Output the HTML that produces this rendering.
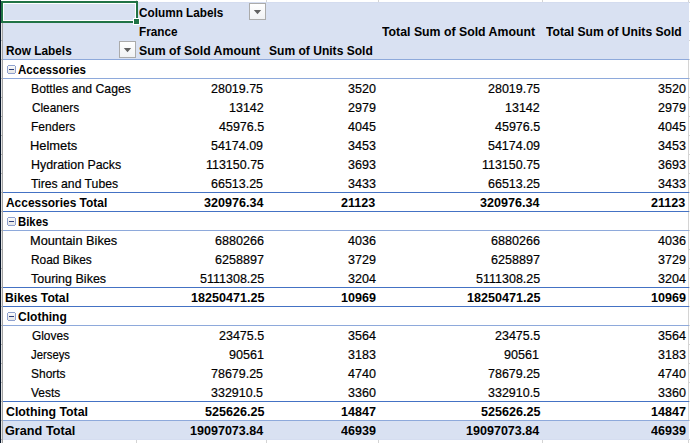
<!DOCTYPE html>
<html><head><meta charset="utf-8"><style>
html,body{margin:0;padding:0;background:#fff;}
body{width:690px;height:443px;position:relative;overflow:hidden;font-family:"Liberation Sans",sans-serif;}
.r{position:absolute;}
.t{position:absolute;white-space:nowrap;font-size:13.5px;line-height:19px;height:19px;color:#000;transform-origin:0 0;-webkit-text-stroke:0.2px #000;}
.b{font-weight:bold;-webkit-text-stroke:0;}
.cb{position:absolute;width:9px;height:9px;}
.cb b{position:absolute;background:#8FA1CE;}
.cb i{position:absolute;left:1px;top:1px;width:7px;height:7px;background:linear-gradient(#FAFAFA,#E4E4E4);}
.cb i:after{content:"";position:absolute;left:1px;top:3px;width:5px;height:1px;background:#2B3D7A;}
.dd{position:absolute;width:15px;height:15px;border:1px solid #ABABAB;background:linear-gradient(#FFFFFF,#F1F2F4);}
.dd svg{position:absolute;left:0;top:0;}
.sel{position:absolute;left:1px;top:1px;width:133px;height:18px;border:2px solid #217346;box-shadow:inset 0 0 0 1px #fff;}
.hdl{position:absolute;left:133px;top:18px;width:5px;height:5px;background:#217346;border:1px solid #fff;}
</style></head><body>
<div class="r" style="left:0px;top:0px;width:1px;height:443px;background:#07152A"></div>
<div class="r" style="left:1px;top:23px;width:1px;height:420px;background:#E4E4E4"></div>
<div class="r" style="left:1px;top:40px;width:1px;height:1px;background:#B4B4B4"></div>
<div class="r" style="left:1px;top:59px;width:1px;height:1px;background:#B4B4B4"></div>
<div class="r" style="left:1px;top:78px;width:1px;height:1px;background:#B4B4B4"></div>
<div class="r" style="left:1px;top:97px;width:1px;height:1px;background:#B4B4B4"></div>
<div class="r" style="left:1px;top:116px;width:1px;height:1px;background:#B4B4B4"></div>
<div class="r" style="left:1px;top:135px;width:1px;height:1px;background:#B4B4B4"></div>
<div class="r" style="left:1px;top:154px;width:1px;height:1px;background:#B4B4B4"></div>
<div class="r" style="left:1px;top:173px;width:1px;height:1px;background:#B4B4B4"></div>
<div class="r" style="left:1px;top:192px;width:1px;height:1px;background:#B4B4B4"></div>
<div class="r" style="left:1px;top:211px;width:1px;height:1px;background:#B4B4B4"></div>
<div class="r" style="left:1px;top:230px;width:1px;height:1px;background:#B4B4B4"></div>
<div class="r" style="left:1px;top:249px;width:1px;height:1px;background:#B4B4B4"></div>
<div class="r" style="left:1px;top:268px;width:1px;height:1px;background:#B4B4B4"></div>
<div class="r" style="left:1px;top:287px;width:1px;height:1px;background:#B4B4B4"></div>
<div class="r" style="left:1px;top:306px;width:1px;height:1px;background:#B4B4B4"></div>
<div class="r" style="left:1px;top:325px;width:1px;height:1px;background:#B4B4B4"></div>
<div class="r" style="left:1px;top:344px;width:1px;height:1px;background:#B4B4B4"></div>
<div class="r" style="left:1px;top:363px;width:1px;height:1px;background:#B4B4B4"></div>
<div class="r" style="left:1px;top:382px;width:1px;height:1px;background:#B4B4B4"></div>
<div class="r" style="left:1px;top:401px;width:1px;height:1px;background:#B4B4B4"></div>
<div class="r" style="left:1px;top:420px;width:1px;height:1px;background:#B4B4B4"></div>
<div class="r" style="left:1px;top:439px;width:1px;height:1px;background:#B4B4B4"></div>
<div class="r" style="left:2px;top:23px;width:1px;height:420px;background:#A2A2A2"></div>
<div class="r" style="left:266px;top:0px;width:1px;height:2px;background:#D4D4D4"></div>
<div class="r" style="left:378px;top:0px;width:1px;height:2px;background:#D4D4D4"></div>
<div class="r" style="left:542px;top:0px;width:1px;height:2px;background:#D4D4D4"></div>
<div class="r" style="left:688px;top:0px;width:1px;height:2px;background:#D4D4D4"></div>
<div class="r" style="left:3px;top:2px;width:686px;height:1px;background:#D4DCEF"></div>
<div class="r" style="left:3px;top:3px;width:686px;height:56px;background:#D9E1F2"></div>
<div class="r" style="left:688px;top:60px;width:1px;height:383px;background:#D4D4D4"></div>
<div class="r" style="left:136px;top:440px;width:1px;height:3px;background:#D4D4D4"></div>
<div class="r" style="left:266px;top:440px;width:1px;height:3px;background:#D4D4D4"></div>
<div class="r" style="left:378px;top:440px;width:1px;height:3px;background:#D4D4D4"></div>
<div class="r" style="left:542px;top:440px;width:1px;height:3px;background:#D4D4D4"></div>
<div class="r" style="left:3px;top:421px;width:686px;height:18px;background:#D9E1F2"></div>
<div class="r" style="left:3px;top:439px;width:686px;height:1px;background:#D5DDF0"></div>
<div class="r" style="left:3px;top:59px;width:686px;height:1px;background:#8EA9DB"></div>
<div class="r" style="left:3px;top:78px;width:686px;height:1px;background:#8EA9DB"></div>
<div class="r" style="left:3px;top:230px;width:686px;height:1px;background:#8EA9DB"></div>
<div class="r" style="left:3px;top:325px;width:686px;height:1px;background:#8EA9DB"></div>
<div class="r" style="left:3px;top:420px;width:686px;height:1px;background:#8EA9DB"></div>
<div class="r" style="left:3px;top:192px;width:686px;height:1px;background:#4472C4"></div>
<div class="r" style="left:3px;top:211px;width:686px;height:1px;background:#4472C4"></div>
<div class="r" style="left:3px;top:287px;width:686px;height:1px;background:#4472C4"></div>
<div class="r" style="left:3px;top:306px;width:686px;height:1px;background:#4472C4"></div>
<div class="r" style="left:3px;top:401px;width:686px;height:1px;background:#4472C4"></div>
<div class="r" style="left:689px;top:2px;width:1px;height:1px;background:#D4D4D4"></div>
<div class="r" style="left:689px;top:21px;width:1px;height:1px;background:#D4D4D4"></div>
<div class="r" style="left:689px;top:40px;width:1px;height:1px;background:#D4D4D4"></div>
<div class="r" style="left:689px;top:59px;width:1px;height:1px;background:#D4D4D4"></div>
<div class="r" style="left:689px;top:78px;width:1px;height:1px;background:#D4D4D4"></div>
<div class="r" style="left:689px;top:97px;width:1px;height:1px;background:#D4D4D4"></div>
<div class="r" style="left:689px;top:116px;width:1px;height:1px;background:#D4D4D4"></div>
<div class="r" style="left:689px;top:135px;width:1px;height:1px;background:#D4D4D4"></div>
<div class="r" style="left:689px;top:154px;width:1px;height:1px;background:#D4D4D4"></div>
<div class="r" style="left:689px;top:173px;width:1px;height:1px;background:#D4D4D4"></div>
<div class="r" style="left:689px;top:192px;width:1px;height:1px;background:#D4D4D4"></div>
<div class="r" style="left:689px;top:211px;width:1px;height:1px;background:#D4D4D4"></div>
<div class="r" style="left:689px;top:230px;width:1px;height:1px;background:#D4D4D4"></div>
<div class="r" style="left:689px;top:249px;width:1px;height:1px;background:#D4D4D4"></div>
<div class="r" style="left:689px;top:268px;width:1px;height:1px;background:#D4D4D4"></div>
<div class="r" style="left:689px;top:287px;width:1px;height:1px;background:#D4D4D4"></div>
<div class="r" style="left:689px;top:306px;width:1px;height:1px;background:#D4D4D4"></div>
<div class="r" style="left:689px;top:325px;width:1px;height:1px;background:#D4D4D4"></div>
<div class="r" style="left:689px;top:344px;width:1px;height:1px;background:#D4D4D4"></div>
<div class="r" style="left:689px;top:363px;width:1px;height:1px;background:#D4D4D4"></div>
<div class="r" style="left:689px;top:382px;width:1px;height:1px;background:#D4D4D4"></div>
<div class="r" style="left:689px;top:401px;width:1px;height:1px;background:#D4D4D4"></div>
<div class="r" style="left:689px;top:420px;width:1px;height:1px;background:#D4D4D4"></div>
<div class="r" style="left:689px;top:439px;width:1px;height:1px;background:#D4D4D4"></div>
<div class="r" style="left:136px;top:0px;width:1px;height:1px;background:#D4D4D4"></div>
<div class="cb" style="left:7px;top:65px"><b style="left:1px;top:0;width:7px;height:1px"></b><b style="left:1px;top:8px;width:7px;height:1px"></b><b style="left:0;top:1px;width:1px;height:7px"></b><b style="left:8px;top:1px;width:1px;height:7px"></b><i></i></div>
<div class="cb" style="left:7px;top:217px"><b style="left:1px;top:0;width:7px;height:1px"></b><b style="left:1px;top:8px;width:7px;height:1px"></b><b style="left:0;top:1px;width:1px;height:7px"></b><b style="left:8px;top:1px;width:1px;height:7px"></b><i></i></div>
<div class="cb" style="left:7px;top:312px"><b style="left:1px;top:0;width:7px;height:1px"></b><b style="left:1px;top:8px;width:7px;height:1px"></b><b style="left:0;top:1px;width:1px;height:7px"></b><b style="left:8px;top:1px;width:1px;height:7px"></b><i></i></div>
<div class="dd" style="left:249px;top:3px"><svg width="15" height="15" viewBox="0 0 15 15"><path d="M3.8 6 L11.2 6 L7.5 10.2 Z" fill="#616161"/></svg></div>
<div class="dd" style="left:119px;top:41px"><svg width="15" height="15" viewBox="0 0 15 15"><path d="M3.8 6 L11.2 6 L7.5 10.2 Z" fill="#616161"/></svg></div>
<div class="sel"></div><div class="hdl"></div>
<div class="t b" style="left:138.764px;top:3px;transform:scaleX(0.87231)">Column Labels</div>
<div class="t b" style="left:139.115px;top:22px;transform:scaleX(0.87199)">France</div>
<div class="t b" style="left:381.557px;top:22px;transform:scaleX(0.91086)">Total Sum of Sold Amount</div>
<div class="t b" style="left:545.560px;top:22px;transform:scaleX(0.89768)">Total Sum of Units Sold</div>
<div class="t b" style="left:5.512px;top:41px;transform:scaleX(0.87606)">Row Labels</div>
<div class="t b" style="left:138.806px;top:41px;transform:scaleX(0.90999)">Sum of Sold Amount</div>
<div class="t b" style="left:268.827px;top:41px;transform:scaleX(0.89300)">Sum of Units Sold</div>
<div class="t b" style="left:17.809px;top:60px;transform:scaleX(0.85507)">Accessories</div>
<div class="t" style="left:30.578px;top:79px;transform:scaleX(0.90482)">Bottles and Cages</div>
<div class="t" style="left:31.547px;top:98px;transform:scaleX(0.87159)">Cleaners</div>
<div class="t" style="left:30.831px;top:117px;transform:scaleX(0.89327)">Fenders</div>
<div class="t" style="left:30.470px;top:136px;transform:scaleX(0.95529)">Helmets</div>
<div class="t" style="left:30.543px;top:155px;transform:scaleX(0.91766)">Hydration Packs</div>
<div class="t" style="left:31.352px;top:174px;transform:scaleX(0.90400)">Tires and Tubes</div>
<div class="t b" style="left:5.593px;top:193px;transform:scaleX(0.88341)">Accessories Total</div>
<div class="t b" style="left:17.553px;top:212px;transform:scaleX(0.83966)">Bikes</div>
<div class="t" style="left:30.498px;top:231px;transform:scaleX(0.94526)">Mountain Bikes</div>
<div class="t" style="left:30.850px;top:250px;transform:scaleX(0.88067)">Road Bikes</div>
<div class="t" style="left:31.344px;top:269px;transform:scaleX(0.92697)">Touring Bikes</div>
<div class="t b" style="left:5.062px;top:288px;transform:scaleX(0.90131)">Bikes Total</div>
<div class="t b" style="left:17.939px;top:307px;transform:scaleX(0.89110)">Clothing</div>
<div class="t" style="left:31.541px;top:326px;transform:scaleX(0.87871)">Gloves</div>
<div class="t" style="left:31.111px;top:345px;transform:scaleX(0.83905)">Jerseys</div>
<div class="t" style="left:31.242px;top:364px;transform:scaleX(0.88630)">Shorts</div>
<div class="t" style="left:31.161px;top:383px;transform:scaleX(0.88700)">Vests</div>
<div class="t b" style="left:5.526px;top:402px;transform:scaleX(0.91383)">Clothing Total</div>
<div class="t b" style="left:5.471px;top:421px;transform:scaleX(0.93990)">Grand Total</div>
<div class="t" style="left:211.107px;top:79px;transform:scaleX(0.92439)">28019.75</div>
<div class="t" style="left:347.967px;top:79px;transform:scaleX(0.92776)">3520</div>
<div class="t" style="left:487.907px;top:79px;transform:scaleX(0.92439)">28019.75</div>
<div class="t" style="left:657.767px;top:79px;transform:scaleX(0.92776)">3520</div>
<div class="t" style="left:228.896px;top:98px;transform:scaleX(0.92611)">13142</div>
<div class="t" style="left:348.124px;top:98px;transform:scaleX(0.92807)">2979</div>
<div class="t" style="left:504.696px;top:98px;transform:scaleX(0.92611)">13142</div>
<div class="t" style="left:657.924px;top:98px;transform:scaleX(0.92807)">2979</div>
<div class="t" style="left:218.886px;top:117px;transform:scaleX(0.92596)">45976.5</div>
<div class="t" style="left:348.053px;top:117px;transform:scaleX(0.92976)">4045</div>
<div class="t" style="left:494.686px;top:117px;transform:scaleX(0.92596)">45976.5</div>
<div class="t" style="left:657.853px;top:117px;transform:scaleX(0.92976)">4045</div>
<div class="t" style="left:211.152px;top:136px;transform:scaleX(0.92396)">54174.09</div>
<div class="t" style="left:348.121px;top:136px;transform:scaleX(0.92713)">3453</div>
<div class="t" style="left:487.952px;top:136px;transform:scaleX(0.92396)">54174.09</div>
<div class="t" style="left:657.921px;top:136px;transform:scaleX(0.92713)">3453</div>
<div class="t" style="left:206.078px;top:155px;transform:scaleX(0.92346)">113150.75</div>
<div class="t" style="left:348.121px;top:155px;transform:scaleX(0.92713)">3693</div>
<div class="t" style="left:481.878px;top:155px;transform:scaleX(0.92346)">113150.75</div>
<div class="t" style="left:657.921px;top:155px;transform:scaleX(0.92713)">3693</div>
<div class="t" style="left:211.102px;top:174px;transform:scaleX(0.92448)">66513.25</div>
<div class="t" style="left:348.121px;top:174px;transform:scaleX(0.92713)">3433</div>
<div class="t" style="left:487.902px;top:174px;transform:scaleX(0.92448)">66513.25</div>
<div class="t" style="left:657.921px;top:174px;transform:scaleX(0.92713)">3433</div>
<div class="t b" style="left:204.102px;top:193px;transform:scaleX(0.93027)">320976.34</div>
<div class="t b" style="left:341.308px;top:193px;transform:scaleX(0.93058)">21123</div>
<div class="t b" style="left:479.902px;top:193px;transform:scaleX(0.93027)">320976.34</div>
<div class="t b" style="left:651.108px;top:193px;transform:scaleX(0.93058)">21123</div>
<div class="t" style="left:214.771px;top:231px;transform:scaleX(0.93059)">6880266</div>
<div class="t" style="left:348.111px;top:231px;transform:scaleX(0.92876)">4036</div>
<div class="t" style="left:490.571px;top:231px;transform:scaleX(0.93059)">6880266</div>
<div class="t" style="left:657.911px;top:231px;transform:scaleX(0.92876)">4036</div>
<div class="t" style="left:214.771px;top:250px;transform:scaleX(0.93059)">6258897</div>
<div class="t" style="left:348.135px;top:250px;transform:scaleX(0.92770)">3729</div>
<div class="t" style="left:490.571px;top:250px;transform:scaleX(0.93059)">6258897</div>
<div class="t" style="left:657.935px;top:250px;transform:scaleX(0.92770)">3729</div>
<div class="t" style="left:199.926px;top:269px;transform:scaleX(0.92677)">5111308.25</div>
<div class="t" style="left:347.719px;top:269px;transform:scaleX(0.92744)">3204</div>
<div class="t" style="left:475.726px;top:269px;transform:scaleX(0.92677)">5111308.25</div>
<div class="t" style="left:657.519px;top:269px;transform:scaleX(0.92744)">3204</div>
<div class="t b" style="left:190.828px;top:288px;transform:scaleX(0.93150)">18250471.25</div>
<div class="t b" style="left:340.764px;top:288px;transform:scaleX(0.93000)">10969</div>
<div class="t b" style="left:466.628px;top:288px;transform:scaleX(0.93150)">18250471.25</div>
<div class="t b" style="left:650.564px;top:288px;transform:scaleX(0.93000)">10969</div>
<div class="t" style="left:218.899px;top:326px;transform:scaleX(0.92569)">23475.5</div>
<div class="t" style="left:347.719px;top:326px;transform:scaleX(0.92744)">3564</div>
<div class="t" style="left:494.699px;top:326px;transform:scaleX(0.92569)">23475.5</div>
<div class="t" style="left:657.519px;top:326px;transform:scaleX(0.92744)">3564</div>
<div class="t" style="left:228.674px;top:345px;transform:scaleX(0.93189)">90561</div>
<div class="t" style="left:348.121px;top:345px;transform:scaleX(0.92713)">3183</div>
<div class="t" style="left:504.474px;top:345px;transform:scaleX(0.93189)">90561</div>
<div class="t" style="left:657.921px;top:345px;transform:scaleX(0.92713)">3183</div>
<div class="t" style="left:211.107px;top:364px;transform:scaleX(0.92439)">78679.25</div>
<div class="t" style="left:347.944px;top:364px;transform:scaleX(0.92855)">4740</div>
<div class="t" style="left:487.907px;top:364px;transform:scaleX(0.92439)">78679.25</div>
<div class="t" style="left:657.744px;top:364px;transform:scaleX(0.92855)">4740</div>
<div class="t" style="left:211.118px;top:383px;transform:scaleX(0.92419)">332910.5</div>
<div class="t" style="left:347.967px;top:383px;transform:scaleX(0.92776)">3360</div>
<div class="t" style="left:487.918px;top:383px;transform:scaleX(0.92419)">332910.5</div>
<div class="t" style="left:657.767px;top:383px;transform:scaleX(0.92776)">3360</div>
<div class="t b" style="left:204.737px;top:402px;transform:scaleX(0.93250)">525626.25</div>
<div class="t b" style="left:340.792px;top:402px;transform:scaleX(0.93144)">14847</div>
<div class="t b" style="left:480.537px;top:402px;transform:scaleX(0.93250)">525626.25</div>
<div class="t b" style="left:650.592px;top:402px;transform:scaleX(0.93144)">14847</div>
<div class="t b" style="left:190.211px;top:421px;transform:scaleX(0.92948)">19097073.84</div>
<div class="t b" style="left:340.792px;top:421px;transform:scaleX(0.92930)">46939</div>
<div class="t b" style="left:466.011px;top:421px;transform:scaleX(0.92948)">19097073.84</div>
<div class="t b" style="left:650.592px;top:421px;transform:scaleX(0.92930)">46939</div>
</body></html>
